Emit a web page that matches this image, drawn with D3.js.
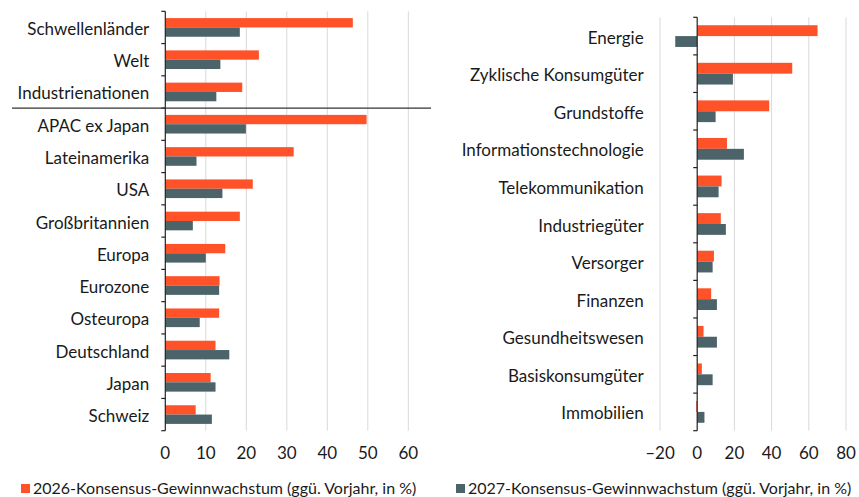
<!DOCTYPE html>
<html>
<head>
<meta charset="utf-8">
<script src="https://cdn.jsdelivr.net/npm/d3@7"></script>
<style>
  body { margin: 0; background: #fff; }
  svg { display: block; font-family: Lato, sans-serif; }
</style>
</head>
<body>
<svg id="svg-main" width="859" height="497"></svg>
<script>
// regions (left panel), top to bottom
var regions = ["Schwellenländer", "Welt", "Industrienationen", "APAC ex Japan", "Lateinamerika",
               "USA", "Großbritannien", "Europa", "Eurozone", "Osteuropa", "Deutschland", "Japan", "Schweiz"];
var regions2026 = [46.3, 23.1, 19.0, 49.7, 31.7, 21.6, 18.4, 14.8, 13.4, 13.3, 12.4, 11.2, 7.5];
var regions2027 = [18.4, 13.6, 12.6, 19.9, 7.7, 14.1, 6.8, 10.0, 13.3, 8.5, 15.8, 12.4, 11.5];

// sectors (right panel)
var sectors = ["Energie", "Zyklische Konsumgüter", "Grundstoffe", "Informationstechnologie", "Telekommunikation",
               "Industriegüter", "Versorger", "Finanzen", "Gesundheitswesen", "Basiskonsumgüter", "Immobilien"];
var sectors2026 = [64.7, 51.1, 38.7, 16.0, 13.1, 12.7, 9.0, 7.5, 3.4, 2.5, -0.5];
var sectors2027 = [-11.8, 19.2, 9.9, 25.1, 11.5, 15.4, 8.3, 10.6, 10.6, 8.3, 3.9];

var leftTicks = [0, 10, 20, 30, 40, 50, 60];
var rightTicks = [-20, 0, 20, 40, 60, 80];

var seriesNames = ["2026-Konsensus-Gewinnwachstum (ggü. Vorjahr, in %)",
                   "2027-Konsensus-Gewinnwachstum (ggü. Vorjahr, in %)"];

var colors = ["#ff5229", "#4b6369"];
var svg = d3.select("#svg-main");

function drawPanel(cats, s1, s2, ticks, xRange, yRange, labelEnd) {
    var x = d3.scaleLinear().domain([ticks[0], ticks[ticks.length - 1]]).range(xRange);
    var y = d3.scaleBand().domain(cats).range(yRange).padding(0);
    var sub = d3.scaleBand().domain([0, 1]).range([0, y.bandwidth()]).paddingInner(0).paddingOuter(0.73);
    var g = svg.append("g");

    // gridlines
    g.selectAll(".grid")
      .data(ticks.filter(function(t) { return t != 0; }))
      .enter().append("line")
      .attr("x1", function(d) { return x(d); })
      .attr("x2", function(d) { return x(d); })
      .attr("y1", yRange[0])
      .attr("y2", yRange[1])
      .attr("stroke", "#d9d9d9")
      .attr("stroke-width", 1);

    // bars
    var rows = cats.map(function(c, i) { return { cat: c, vals: [s1[i], s2[i]] }; });
    rows.forEach(function(r) {
        r.vals.forEach(function(v, k) {
            g.append("rect")
              .attr("x", x(Math.min(0, v)))
              .attr("y", y(r.cat) + sub(k))
              .attr("width", Math.abs(x(v) - x(0)))
              .attr("height", sub.bandwidth())
              .attr("fill", colors[k]);
        });
    });

    // vertical axis line with ticks between categories
    g.append("line")
      .attr("x1", x(0)).attr("x2", x(0))
      .attr("y1", yRange[0]).attr("y2", yRange[1])
      .attr("stroke", "#222").attr("stroke-width", 1.2);
    var bounds = cats.map(function(c) { return y(c); }).concat([yRange[1]]);
    g.selectAll(".ytick")
      .data(bounds)
      .enter().append("line")
      .attr("x1", x(0) - 4).attr("x2", x(0))
      .attr("y1", function(d) { return d; })
      .attr("y2", function(d) { return d; })
      .attr("stroke", "#222").attr("stroke-width", 1.2);

    // category labels
    g.selectAll(".cat")
      .data(cats)
      .enter().append("text")
      .attr("x", labelEnd)
      .attr("y", function(d) { return y(d) + y.bandwidth() / 2 + 7.5; })
      .attr("text-anchor", "end")
      .attr("fill", "#1a1a1a")
      .style("font-size", "17px")
      .text(function(d) { return d; });

    // value tick labels
    g.selectAll(".xlab")
      .data(ticks)
      .enter().append("text")
      .attr("x", function(d) { return x(d); })
      .attr("y", 459)
      .attr("text-anchor", "middle")
      .attr("fill", "#1a1a1a")
      .style("font-size", "17px")
      .text(function(d) { return d < 0 ? "\u2013" + Math.abs(d) : d; });

    return y;
}

var yL = drawPanel(regions, regions2026, regions2027, leftTicks, [165.3, 408.3], [11.3, 430.7], 149.3);
drawPanel(sectors, sectors2026, sectors2027, rightTicks, [660, 846], [17.3, 430.7], 643.7);

// separator between aggregates and single regions
svg.append("line")
  .attr("x1", 12).attr("x2", 431)
  .attr("y1", yL("APAC ex Japan")).attr("y2", yL("APAC ex Japan"))
  .attr("stroke", "#333").attr("stroke-width", 1.2);

// legend
var legendX = [21, 456];
seriesNames.forEach(function(name, k) {
    svg.append("rect")
      .attr("x", legendX[k]).attr("y", 484)
      .attr("width", 9).attr("height", 9)
      .attr("fill", colors[k]);
    svg.append("text")
      .attr("x", legendX[k] + 12).attr("y", 494)
      .attr("fill", "#1a1a1a")
      .style("font-size", "16px")
      .text(name);
});
</script>
</body>
</html>
